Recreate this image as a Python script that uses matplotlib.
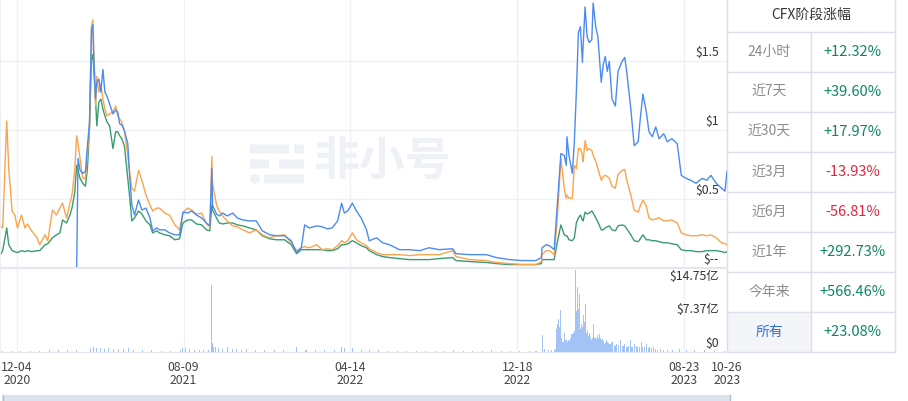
import numpy as np
import pandas as pd
import matplotlib
matplotlib.use("Agg")
import matplotlib.pyplot as plt
from matplotlib.patches import Rectangle, FancyBboxPatch, Circle

plt.rcParams['font.family'] = ['Noto Sans CJK SC', 'DejaVu Sans']

# price lines (USD)
dates = pd.to_datetime([
    '2020-11-09', '2020-11-13', '2020-11-19', '2020-11-22', '2020-11-27', '2020-12-01', '2020-12-05', '2020-12-11',
    '2020-12-16', '2020-12-20', '2020-12-26',
    '2021-01-03', '2021-01-07', '2021-01-15', '2021-01-19', '2021-01-26', '2021-02-01', '2021-02-06', '2021-02-10',
    '2021-02-16', '2021-02-21', '2021-02-24', '2021-02-28',
    '2021-03-03', '2021-03-05', '2021-03-08', '2021-03-12', '2021-03-16', '2021-03-19', '2021-03-22', '2021-03-25',
    '2021-03-27', '2021-03-28', '2021-03-31',
    '2021-04-02', '2021-04-05', '2021-04-08', '2021-04-11', '2021-04-14', '2021-04-17', '2021-04-21', '2021-04-26', '2021-04-30',
    '2021-05-03', '2021-05-06', '2021-05-09', '2021-05-13', '2021-05-18', '2021-05-21', '2021-05-24', '2021-05-28',
    '2021-06-03', '2021-06-08', '2021-06-14', '2021-06-20', '2021-06-24', '2021-06-30',
    '2021-07-04', '2021-07-12', '2021-07-19', '2021-07-27',
    '2021-08-03', '2021-08-08', '2021-08-15', '2021-08-21', '2021-08-28',
    '2021-09-05', '2021-09-12', '2021-09-17', '2021-09-20', '2021-09-21', '2021-09-27',
    '2021-10-01', '2021-10-06', '2021-10-13', '2021-10-21', '2021-10-28',
    '2021-11-05', '2021-11-15', '2021-11-25',
    '2021-12-04', '2021-12-15', '2021-12-25',
    '2022-01-06', '2022-01-16', '2022-01-24', '2022-01-31',
    '2022-02-05', '2022-02-12', '2022-02-23',
    '2022-03-03', '2022-03-11', '2022-03-18', '2022-03-26',
    '2022-04-01', '2022-04-05', '2022-04-10', '2022-04-17', '2022-04-23', '2022-04-30',
    '2022-05-08', '2022-05-12', '2022-05-23',
    '2022-06-01', '2022-06-11', '2022-06-26',
    '2022-07-11', '2022-07-26', '2022-08-09', '2022-08-24', '2022-09-13', '2022-09-18', '2022-10-08', '2022-11-02',
    '2022-11-17', '2022-12-06', '2022-12-25',
    '2023-01-15', '2023-01-23', '2023-01-24', '2023-01-30', '2023-02-04', '2023-02-11', '2023-02-15', '2023-02-21', '2023-02-26',
    '2023-03-01', '2023-03-02', '2023-03-05', '2023-03-10', '2023-03-13', '2023-03-16', '2023-03-19', '2023-03-22',
    '2023-03-25', '2023-03-26', '2023-03-29',
    '2023-04-01', '2023-04-04', '2023-04-08', '2023-04-10', '2023-04-14', '2023-04-17', '2023-04-22', '2023-04-25', '2023-04-28',
    '2023-05-01', '2023-05-04', '2023-05-08', '2023-05-13', '2023-05-17', '2023-05-23', '2023-05-27', '2023-05-30',
    '2023-06-05', '2023-06-10', '2023-06-16', '2023-06-19', '2023-06-23', '2023-06-28',
    '2023-07-02', '2023-07-07', '2023-07-12', '2023-07-17', '2023-07-24', '2023-07-29',
    '2023-08-05', '2023-08-13', '2023-08-19', '2023-08-26',
    '2023-09-02', '2023-09-10', '2023-09-19', '2023-09-26',
    '2023-10-02', '2023-10-10', '2023-10-18', '2023-10-23', '2023-10-26',
])

orange = [
    0.306, 0.291, 1.068, 0.723, 0.414, 0.385, 0.291, 0.385, 0.291, 0.320, 0.270,
    0.219, 0.169, 0.241, 0.198, 0.421, 0.385, 0.435, 0.471, 0.363, 0.471, 0.529, 0.701,
    0.960, 0.903, 0.795, 0.651, 0.651, 0.831, 1.011, 1.752, 1.802, 1.658, 1.176,
    1.392, 1.277, 1.335, 1.227, 1.155, 1.104, 1.119, 1.133, 1.176,
    1.104, 1.083, 1.061, 0.996, 0.817, 0.687, 0.579, 0.558,
    0.709, 0.637, 0.529, 0.457, 0.414, 0.435,
    0.435, 0.399, 0.385, 0.313,
    0.277, 0.399, 0.435, 0.421, 0.392,
    0.399, 0.320, 0.299, 0.809, 0.615, 0.457,
    0.414, 0.378, 0.342, 0.306, 0.299,
    0.277, 0.255, 0.277,
    0.241, 0.219, 0.234,
    0.241, 0.183, 0.126, 0.147,
    0.155, 0.147, 0.169,
    0.133, 0.140, 0.133, 0.162,
    0.198, 0.183, 0.198, 0.255, 0.205, 0.183,
    0.162, 0.140, 0.112,
    0.097, 0.097, 0.097,
    0.090, 0.097, 0.097, 0.097, 0.126, 0.083, 0.061, 0.054, 0.040, 0.032, 0.025,
    0.025, 0.047, 0.097, 0.126, 0.126, 0.097, 0.313, 0.795, 0.579,
    0.507, 0.529, 0.507, 0.507, 0.745, 0.723, 0.867, 0.867, 0.817, 0.773, 0.924,
    0.853, 0.867, 0.853, 0.817, 0.773, 0.723, 0.637, 0.665, 0.673,
    0.665, 0.651, 0.594, 0.579, 0.680, 0.709, 0.716, 0.637,
    0.529, 0.421, 0.406, 0.450, 0.493, 0.450,
    0.363, 0.349, 0.356, 0.363, 0.342, 0.342,
    0.349, 0.327, 0.255, 0.241,
    0.234, 0.234, 0.241, 0.234,
    0.241, 0.219, 0.183, 0.176, 0.169,
]

green = [
    0.090, 0.126, 0.291, 0.169, 0.126, 0.119, 0.112, 0.126, 0.119, 0.126, 0.119,
    0.126, 0.126, 0.169, 0.176, 0.219, 0.241, 0.255, 0.349, 0.327, 0.385, 0.435, 0.543,
    0.745, 0.709, 0.651, 0.615, 0.594, 0.723, 1.011, 1.514, 1.550, 1.478, 1.227,
    1.032, 1.205, 1.227, 1.155, 1.104, 1.061, 1.032, 0.867, 0.989,
    0.989, 0.960, 0.939, 0.888, 0.651, 0.507, 0.342, 0.363,
    0.414, 0.392, 0.342, 0.313, 0.255, 0.270,
    0.255, 0.241, 0.234, 0.205,
    0.212, 0.327, 0.349, 0.349, 0.320,
    0.313, 0.277, 0.270, 0.457, 0.421, 0.363,
    0.327, 0.320, 0.327, 0.327, 0.313,
    0.306, 0.291, 0.277,
    0.234, 0.212, 0.205,
    0.205, 0.169, 0.104, 0.133,
    0.133, 0.133, 0.133,
    0.133, 0.126, 0.126, 0.140,
    0.169, 0.169, 0.176, 0.198, 0.183, 0.162,
    0.147, 0.126, 0.097,
    0.083, 0.076, 0.068,
    0.061, 0.061, 0.061, 0.068, 0.076, 0.054, 0.047, 0.040, 0.032, 0.025, 0.025,
    0.025, 0.032, 0.061, 0.061, 0.061, 0.061, 0.169, 0.313, 0.241,
    0.234, 0.234, 0.205, 0.198, 0.219, 0.327, 0.363, 0.385, 0.349, 0.342, 0.406,
    0.392, 0.399, 0.414, 0.399, 0.363, 0.335, 0.277, 0.277, 0.291,
    0.299, 0.306, 0.277, 0.270, 0.306, 0.313, 0.306, 0.284,
    0.241, 0.198, 0.191, 0.212, 0.241, 0.205,
    0.205, 0.198, 0.198, 0.191, 0.183, 0.183,
    0.176, 0.169, 0.133, 0.126,
    0.126, 0.119, 0.119, 0.126,
    0.126, 0.126, 0.119, 0.112, 0.119,
]

nan = np.nan
blue = [nan] * 23 + [
    0.000, 0.795, 0.709, 0.687, 0.701, 0.888, 1.047, 1.730, 1.766, 1.586, 1.227,
    1.349, 1.371, 1.277, 1.442, 1.277, 1.248, 1.191, 1.119, 1.147,
    1.133, 1.047, 1.040, 0.996, 0.903, 0.651, 0.457, 0.385,
    0.493, 0.421, 0.435, 0.363, 0.270, 0.291,
    0.277, 0.277, 0.255, 0.241,
    0.241, 0.406, 0.399, 0.414, 0.385,
    0.363, 0.327, 0.306, 0.723, 0.457, 0.392,
    0.378, 0.399, 0.378, 0.399, 0.363,
    0.349, 0.342, 0.342,
    0.270, 0.241, 0.234,
    0.234, 0.198, 0.112, 0.147,
    0.313, 0.291, 0.306,
    0.299, 0.284, 0.291, 0.342,
    0.471, 0.399, 0.414, 0.471, 0.414, 0.363,
    0.277, 0.198, 0.219,
    0.183, 0.169, 0.133,
    0.133, 0.126, 0.147, 0.133, 0.140, 0.104, 0.097, 0.097, 0.076, 0.061, 0.054,
    0.054, 0.076, 0.147, 0.169, 0.162, 0.133, 0.414, 0.831, 0.817,
    0.745, 0.953, 0.817, 0.687, 0.917, 1.277, 1.709, 1.752, 1.493, 1.608, 1.896,
    1.680, 1.637, 1.658, 1.924, 1.745, 1.680, 1.349, 1.478, 1.536,
    1.428, 1.500, 1.227, 1.176, 1.428, 1.500, 1.529, 1.421,
    1.155, 0.888, 0.917, 1.083, 1.263, 1.133,
    0.989, 0.953, 1.025, 0.939, 0.975, 0.917,
    0.939, 0.903, 0.673, 0.651,
    0.637, 0.615, 0.651, 0.637,
    0.673, 0.615, 0.579, 0.558, 0.701,
]

# trading volume (亿 USD)
vol_dates = pd.to_datetime([
    '2020-11-12', '2020-11-26', '2020-12-10', '2020-12-24', '2021-01-07', '2021-01-21', '2021-02-04', '2021-02-18',
    '2021-03-03', '2021-03-24', '2021-03-28', '2021-04-02', '2021-04-08', '2021-04-14', '2021-04-20', '2021-04-27',
    '2021-05-04', '2021-05-12', '2021-05-19', '2021-05-26', '2021-06-09', '2021-06-23', '2021-07-07', '2021-07-21',
    '2021-08-04', '2021-08-08', '2021-08-12', '2021-08-18', '2021-08-25', '2021-09-01', '2021-09-08', '2021-09-15',
    '2021-09-20', '2021-09-21', '2021-09-23', '2021-09-26', '2021-09-30', '2021-10-06', '2021-10-13', '2021-10-20',
    '2021-10-27', '2021-11-03', '2021-11-10', '2021-11-24', '2021-12-08', '2021-12-22',
    '2022-01-05', '2022-01-24', '2022-02-07', '2022-02-21', '2022-03-07', '2022-03-21', '2022-04-01', '2022-04-05',
    '2022-04-17', '2022-05-01', '2022-05-12', '2022-05-26', '2022-06-09', '2022-06-23', '2022-07-07', '2022-07-21',
    '2022-08-04', '2022-08-18', '2022-09-01', '2022-09-15', '2022-09-29', '2022-10-13', '2022-10-27', '2022-11-10',
    '2022-11-24', '2022-12-08', '2022-12-22',
    '2023-01-05', '2023-01-15', '2023-01-24', '2023-01-28', '2023-02-02', '2023-02-07', '2023-02-11', '2023-02-13',
    '2023-02-15', '2023-02-16', '2023-02-18', '2023-02-19', '2023-02-20', '2023-02-21', '2023-02-22', '2023-02-23',
    '2023-02-24', '2023-02-25', '2023-02-27', '2023-02-28', '2023-03-01', '2023-03-02', '2023-03-03', '2023-03-04',
    '2023-03-05', '2023-03-06', '2023-03-07', '2023-03-08', '2023-03-09', '2023-03-10', '2023-03-11', '2023-03-12',
    '2023-03-13', '2023-03-14', '2023-03-15', '2023-03-16', '2023-03-17', '2023-03-18', '2023-03-19', '2023-03-20',
    '2023-03-21', '2023-03-22', '2023-03-23', '2023-03-24', '2023-03-25', '2023-03-26', '2023-03-27', '2023-03-28',
    '2023-03-29', '2023-03-30', '2023-03-31', '2023-04-01', '2023-04-02', '2023-04-03', '2023-04-04', '2023-04-05',
    '2023-04-06', '2023-04-07', '2023-04-08', '2023-04-09', '2023-04-10', '2023-04-11', '2023-04-12', '2023-04-13',
    '2023-04-14', '2023-04-15', '2023-04-16', '2023-04-17', '2023-04-18', '2023-04-19', '2023-04-20', '2023-04-21',
    '2023-04-22', '2023-04-23', '2023-04-24', '2023-04-25', '2023-04-26', '2023-04-27', '2023-04-28', '2023-04-29',
    '2023-04-30', '2023-05-01', '2023-05-02', '2023-05-03', '2023-05-04', '2023-05-05', '2023-05-06', '2023-05-07',
    '2023-05-08', '2023-05-09', '2023-05-11', '2023-05-13', '2023-05-15', '2023-05-17', '2023-05-18', '2023-05-20',
    '2023-05-21', '2023-05-23', '2023-05-25', '2023-05-27', '2023-05-29', '2023-05-31', '2023-06-01', '2023-06-02',
    '2023-06-04', '2023-06-06', '2023-06-08', '2023-06-10', '2023-06-11', '2023-06-13', '2023-06-15', '2023-06-18',
    '2023-06-21', '2023-06-23', '2023-06-26', '2023-06-29', '2023-07-01', '2023-07-03', '2023-07-05', '2023-07-08',
    '2023-07-11', '2023-07-15', '2023-07-19', '2023-07-23', '2023-07-30', '2023-08-06', '2023-08-17', '2023-08-27',
    '2023-09-08', '2023-09-23', '2023-10-08', '2023-10-23',
])
vol_values = [
    0.2, 0.2, 0.2, 0.2, 0.2, 0.3, 0.3, 0.4,
    0.3, 0.7, 0.9, 0.8, 0.7, 0.6, 0.7, 0.6,
    0.5, 0.6, 0.7, 0.4, 0.3, 0.3, 0.2, 0.2,
    0.4, 0.8, 0.7, 0.5, 0.4, 0.4, 0.3, 0.3,
    14.75, 1.8, 1.0, 0.9, 0.8, 0.6, 1.1, 0.5,
    0.6, 0.4, 0.5, 0.4, 0.3, 0.3,
    0.3, 0.9, 0.3, 0.3, 0.3, 0.3, 1.1, 0.7,
    0.7, 0.3, 0.4, 0.3, 0.2, 0.2, 0.2, 0.2,
    0.2, 0.2, 0.2, 0.3, 0.2, 0.2, 0.2, 0.3,
    0.2, 0.2, 0.2,
    0.2, 0.2, 3.6, 0.5, 0.4, 0.4, 0.3, 0.5,
    4.9, 6.0, 7.2, 5.5, 7.5, 9.2, 3.0, 2.2,
    2.0, 2.0, 4.2, 2.5, 2.2, 2.5, 2.0, 2.6,
    2.5, 2.3, 3.0, 2.5, 3.8, 3.4, 3.9, 4.2,
    4.5, 18.3, 12.0, 9.0, 11.4, 14.3, 9.5, 7.0,
    12.7, 5.0, 4.5, 6.0, 5.5, 8.0, 4.0, 6.5,
    10.5, 5.0, 4.2, 3.8, 4.7, 3.5, 2.8, 4.2,
    3.2, 2.6, 2.5, 3.0, 6.0, 4.0, 3.3, 3.1,
    2.4, 2.7, 2.8, 3.6, 3.0, 2.2, 3.8, 2.9,
    2.2, 2.5, 2.7, 2.0, 2.4, 1.6, 1.9, 1.8,
    2.5, 1.7, 2.0, 1.9, 1.5, 1.6, 1.7, 1.4,
    2.0, 1.3, 1.5, 1.2, 1.6, 1.4, 1.1, 2.5,
    1.4, 1.3, 1.2, 1.6, 1.1, 1.0, 0.9, 1.2,
    2.5, 1.1, 0.9, 1.0, 1.6, 1.2, 0.9, 0.9,
    2.0, 1.1, 0.9, 1.6, 0.8, 0.9, 0.7, 0.9,
    0.6, 0.4, 0.5, 0.4, 0.3, 0.4, 0.5, 0.3,
    0.3, 0.3, 0.2, 0.2,
]

tick_dates = pd.to_datetime(['2020-12-04', '2021-08-09', '2022-04-14', '2022-12-18', '2023-08-23', '2023-10-26'])
tick_labels = ['12-04\n2020', '08-09\n2021', '04-14\n2022', '12-18\n2022', '08-23\n2023', '10-26\n2023']
price_ticks = [0, 0.5, 1, 1.5]
price_labels = ['$--', '$0.5', '$1', '$1.5']
vol_ticks = [0, 7.37, 14.75]
vol_labels = ['$0', '$7.37亿', '$14.75亿']

periods = ['24小时', '近7天', '近30天', '近3月', '近6月', '近1年', '今年来', '所有']
changes = [12.32, 39.60, 17.97, -13.93, -56.81, 292.73, 566.46, 23.08]

W, H = 908, 401
fig = plt.figure(figsize=(W / 100, H / 100), dpi=100)


def box(x0, y0, x1, y1):
    return [x0 / W, 1 - y1 / H, (x1 - x0) / W, (y1 - y0) / H]


# background layer in pixel coordinates: watermark, table, scrollbar
bg = fig.add_axes([0, 0, 1, 1], zorder=0)
bg.set_xlim(0, W)
bg.set_ylim(H, 0)
bg.axis('off')

wm = '#eef1f6'
bg.text(383, 163, '非小号', fontsize=33, fontweight='bold', color=wm, ha='center', va='center')
for x0, x1, yc in [(250, 289, 149), (294, 304, 149), (250, 269, 164), (279, 304, 164), (264, 304, 179)]:
    bg.add_patch(FancyBboxPatch((x0 + 4.5, yc - 4.5), x1 - x0 - 9, 9,
                                boxstyle='round,pad=4.5', lw=0, fc=wm, mutation_aspect=0.0001))
bg.add_patch(Circle((255, 179), 4.8, lw=0, fc=wm))

ax = fig.add_axes(box(0, 0, 727, 268), zorder=1)
axv = fig.add_axes(box(0, 270, 727, 351.5), zorder=1, sharex=ax)
for a in (ax, axv):
    a.set_facecolor('none')
    for s in a.spines.values():
        s.set_visible(False)
    a.tick_params(length=0)

ax.set_xlim(pd.Timestamp('2020-11-09'), pd.Timestamp('2023-10-26'))
ax.set_ylim(0.018, 1.946)
ax.set_xticks(tick_dates)
ax.set_yticks(price_ticks)
ax.tick_params(labelbottom=False, labelleft=False)
ax.grid(True, color='#eef0f5', lw=1)
ax.spines['bottom'].set_visible(True)
ax.spines['bottom'].set_color('#e3e7ef')
ax.spines['bottom'].set_linewidth(1.5)
ax.spines['left'].set_visible(True)
ax.spines['left'].set_color('#eceff4')

ax.plot(dates, green, color='#3a9c70', lw=1.0)
ax.plot(dates, orange, color='#fba44e', lw=1.0)
ax.plot(dates, blue, color='#4c8cf0', lw=1.0)

for v, lab in zip(price_ticks, price_labels):
    ax.annotate(lab, xy=(1, v), xycoords=ax.get_yaxis_transform(), xytext=(-5.8, 6.3),
                textcoords='offset points', ha='right', va='center', fontsize=8.8,
                color='#333333', annotation_clip=False)

axv.bar(vol_dates, vol_values, width=1.5, color='#a3c3f6', lw=0)
axv.set_ylim(0, 18.1)
axv.set_yticks([])
axv.grid(True, axis='x', color='#eef0f5', lw=1)
axv.spines['bottom'].set_visible(True)
axv.spines['bottom'].set_color('#e3e7ef')
axv.spines['left'].set_visible(True)
axv.spines['left'].set_color('#eceff4')
axv.set_xticks(tick_dates)
axv.set_xticklabels(tick_labels, fontsize=8.8, color='#444444', linespacing=1.0)
axv.tick_params(axis='x', pad=7)

for v, lab in zip(vol_ticks, vol_labels):
    axv.annotate(lab, xy=(1, v), xycoords=axv.get_yaxis_transform(), xytext=(-5.8, 6.0),
                 textcoords='offset points', ha='right', va='center', fontsize=8.8,
                 color='#333333', annotation_clip=False)

# right-hand table of period changes
tl, tm, tr = 727, 811, 895
line = '#dcdeea'
bg.add_patch(Rectangle((tl, 312), tm - tl, 40, lw=0, fc='#f4f5f9'))
bg.plot([tl, tl], [0, 352], color=line, lw=1)
bg.plot([tr, tr], [0, 352], color=line, lw=1)
bg.plot([tm, tm], [32, 352], color=line, lw=1)
for i in range(len(periods) + 1):
    y = 32 + 40 * i
    bg.plot([tl, tr], [y, y], color=line, lw=1)
bg.text((tl + tr) / 2, 15, 'CFX阶段涨幅', fontsize=10, color='#333333', ha='center', va='center')
for i, (p, c) in enumerate(zip(periods, changes)):
    yc = 52 + 40 * i
    bg.text((tl + tm) / 2, yc, p, fontsize=10, ha='center', va='center',
            color='#2f6fdc' if p == '所有' else '#8c8c8c')
    bg.text((tm + tr) / 2, yc, f'{c:+.2f}%', fontsize=10.5, ha='center', va='center',
            color='#0f8565' if c >= 0 else '#e2253f')

# scrollbar at the bottom
bg.add_patch(Rectangle((2, 395), 728, 6, lw=0, fc='#dde3ee'))
bg.plot([2.5, 2.5], [395, 401], color='#b4bfd3', lw=1)
bg.plot([729.5, 729.5], [395, 401], color='#b4bfd3', lw=1)

fig.savefig('out.png', dpi=100)
